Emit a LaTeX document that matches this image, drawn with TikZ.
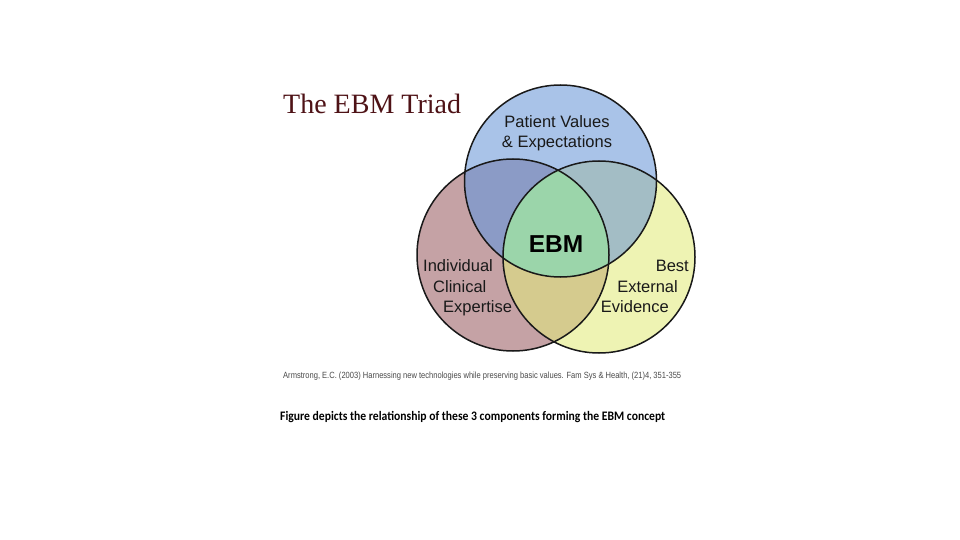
\documentclass[tikz,border=0pt]{standalone}
\usepackage{fontspec}
\setmainfont{Liberation Serif}
\setsansfont{Liberation Sans}
\newfontfamily\capfont{Carlito}
\usetikzlibrary{positioning}
\definecolor{redc}{HTML}{C5A2A5}
\definecolor{yelc}{HTML}{EEF3B3}
\definecolor{bluc}{HTML}{A9C3E8}
\definecolor{brc}{HTML}{8B9BC6}
\definecolor{byc}{HTML}{A3BDC5}
\definecolor{ryc}{HTML}{D5CB8E}
\definecolor{allc}{HTML}{9BD5AA}
\definecolor{titlec}{HTML}{4E1216}
\definecolor{citec}{HTML}{4A4A4A}
\tikzset{
  lbl/.style={inner sep=0pt, font=\sffamily\fontsize{16.5}{20}\selectfont, text=black!90},
  outline/.style={line width=1.5pt, draw=black!90},
}
\begin{document}
\begin{tikzpicture}[x=1pt,y=-1pt]
\useasboundingbox (0,0) rectangle (960,540);
\fill[white] (0,0) rectangle (960,540);
\coordinate (B) at (560.5,181);
\coordinate (R) at (513,255);
\coordinate (Y) at (599,257);
\def\rad{96}
\fill[redc] (R) circle (\rad);
\fill[yelc] (Y) circle (\rad);
\fill[bluc] (B) circle (\rad);
\begin{scope}\clip (R) circle (\rad); \fill[ryc] (Y) circle (\rad);\end{scope}
\begin{scope}\clip (B) circle (\rad); \fill[brc] (R) circle (\rad);\end{scope}
\begin{scope}\clip (B) circle (\rad); \fill[byc] (Y) circle (\rad);\end{scope}
\begin{scope}\clip (B) circle (\rad); \clip (R) circle (\rad); \fill[allc] (Y) circle (\rad);\end{scope}
\draw[outline] (R) circle (\rad);
\draw[outline] (Y) circle (\rad);
\draw[outline] (B) circle (\rad);

\node[inner sep=0pt, anchor=base west, font=\fontsize{28}{32}\selectfont, text=titlec] (title) at (283,113.5) {The EBM Triad};

\node[lbl, anchor=base] (pv1) at (557,128) {Patient Values};
\node[lbl, anchor=base] (pv2) at (557,148) {\& Expectations};

\node[inner sep=0pt, anchor=base, font=\sffamily\bfseries\fontsize{24.5}{28}\selectfont] (ebm) at (556,252) {EBM};

\node[lbl, anchor=base west] (ic1) at (423,271) {Individual};
\node[lbl, anchor=base west] (ic2) at (433,292) {Clinical};
\node[lbl, anchor=base west] (ic3) at (443,312) {Expertise};

\node[lbl, anchor=base east] (be1) at (689,271) {Best};
\node[lbl, anchor=base east] (be2) at (678,292) {External};
\node[lbl, anchor=base east] (be3) at (669,312) {Evidence};

\node[inner sep=0pt, anchor=base west, text=citec, font=\sffamily\fontsize{9}{10}\selectfont] (cite) at (283,378)
  {\resizebox{398pt}{\height}{Armstrong, E.C. (2003) Harnessing new technologies while preserving basic values. Fam Sys \& Health, (21)4, 351-355}};

\node[inner sep=0pt, anchor=base west, font=\capfont\bfseries\fontsize{13}{15}\selectfont] (caption) at (280,420)
  {\resizebox{385pt}{\height}{Figure depicts the relationship of these 3 components forming the EBM concept}};
\end{tikzpicture}
\end{document}
